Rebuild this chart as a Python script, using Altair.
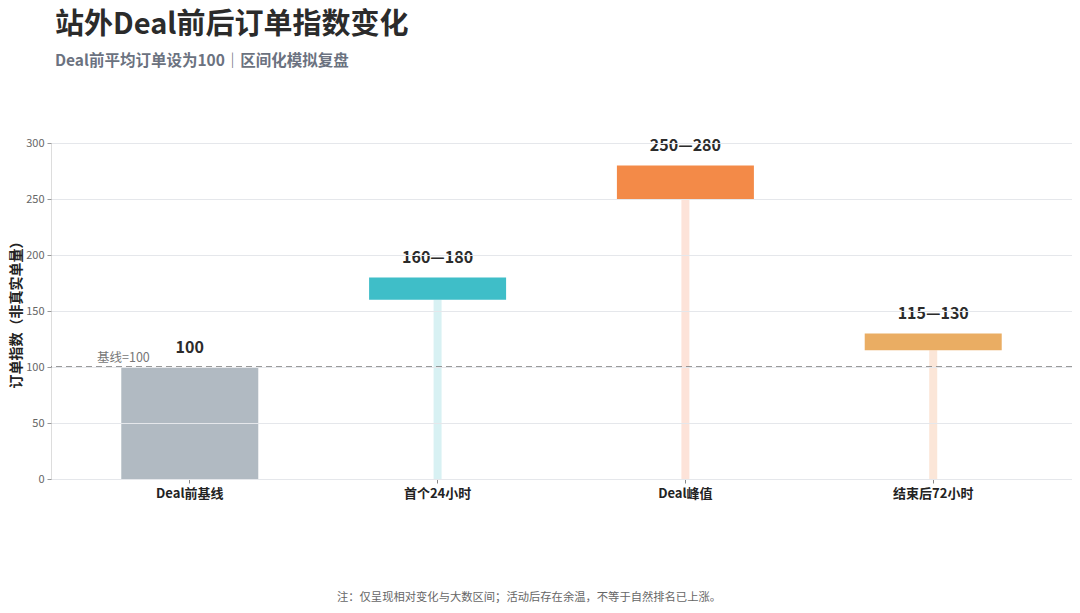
import altair as alt
import pandas as pd

FONT = "Noto Sans CJK SC"

categories = ["Deal前基线", "首个24小时", "Deal峰值", "结束后72小时"]
bar_bottom = [0, 160, 250, 115]
bar_top = [100, 180, 280, 130]
value_labels = ["100", "160—180", "250—280", "115—130"]
bar_colors = ["#b1bac2", "#3fbec8", "#f38a48", "#eaad63"]
stem_colors = ["#ffffff", "#d8f1f3", "#fde3d9", "#fbe6d8"]
baseline_value = 100

df = pd.DataFrame({
    "阶段": categories,
    "low": bar_bottom,
    "high": bar_top,
    "label": value_labels,
    "color": bar_colors,
    "stem": stem_colors,
})

x_enc = alt.X(
    "阶段:N",
    sort=categories,
    title=None,
    scale=alt.Scale(paddingInner=0, paddingOuter=0.06),
    axis=alt.Axis(
        labelAngle=0, labelFont=FONT, labelFontSize=13, labelFontWeight="bold",
        labelColor="#222222", labelPadding=4, tickSize=4, tickColor="#888888",
        domainColor="#dddddd", grid=False,
    ),
)
y_scale = alt.Scale(domain=[0, 300], nice=False)
y_axis = alt.Axis(
    values=[0, 50, 100, 150, 200, 250, 300], title="订单指数（非真实单量）",
    titleFont=FONT, titleFontSize=14, titleFontWeight="bold", titleColor="#222222",
    titlePadding=2, labelFont=FONT, labelFontSize=11, labelColor="#666666",
    labelPadding=3, tickSize=4, tickColor="#999999", domain=False,
    gridColor="#e5e7eb", gridWidth=1, zindex=1,
)

base = alt.Chart(df)

stems = base.transform_filter("datum.low > 0").mark_bar(width=8).encode(
    x=x_enc,
    y=alt.Y("zero:Q", scale=y_scale, axis=y_axis),
    y2="low:Q",
    color=alt.Color("stem:N", scale=None),
).transform_calculate(zero="0")

bars = base.mark_bar(width=137).encode(
    x=x_enc,
    y=alt.Y("low:Q", scale=y_scale, axis=y_axis),
    y2="high:Q",
    color=alt.Color("color:N", scale=None),
)

texts = base.mark_text(
    font=FONT, fontSize=16, fontWeight="bold", color="#2b2b2b",
    baseline="bottom", dy=-11,
).encode(
    x=x_enc,
    y=alt.Y("high:Q", scale=y_scale),
    text="label:N",
)

rule = alt.Chart(pd.DataFrame({"v": [baseline_value]})).mark_rule(
    color="#7a7a7a", strokeDash=[6, 4], strokeWidth=1.5
).encode(y=alt.Y("v:Q", scale=y_scale))

base_text = alt.Chart(pd.DataFrame({"t": ["基线=100"], "v": [baseline_value]})).mark_text(
    font=FONT, fontSize=12.5, color="#777777", align="left", baseline="bottom", dy=-2
).encode(y=alt.Y("v:Q", scale=y_scale), x=alt.value(46), text="t:N")

note = alt.Chart(pd.DataFrame({"t": ["注：仅呈现相对变化与大数区间；活动后存在余温，不等于自然排名已上涨。"]})).mark_text(
    font=FONT, fontSize=11.3, color="#666666", align="center", baseline="middle"
).encode(x=alt.value(478), y=alt.value(455), text="t:N")

chart = alt.layer(stems, bars, rule, base_text, texts, note).properties(
    width=1021,
    height=336,
    autosize=alt.AutoSizeParams(type="none"),
    padding={"left": 43, "top": 135, "right": 0, "bottom": 130},
    title=alt.TitleParams(
        text="站外Deal前后订单指数变化",
        subtitle="Deal前平均订单设为100｜区间化模拟复盘",
        anchor="start", frame="group", dx=4, offset=68,
        font=FONT, fontSize=29, fontWeight="bold", color="#2b2b2b",
        subtitleFont=FONT, subtitleFontSize=15.5, subtitleFontWeight="bold",
        subtitleColor="#6b7280", subtitlePadding=14,
    ),
).configure_view(stroke=None).configure(background="white")

chart.save("out.html", embed_options={"renderer": "svg", "actions": False})
